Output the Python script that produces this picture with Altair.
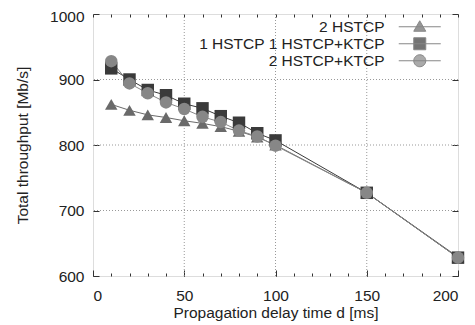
import altair as alt
import pandas as pd

delays = [10, 20, 30, 40, 50, 60, 70, 80, 90, 100, 150, 200]
hstcp2 = [862, 853, 846, 842, 837, 833, 828, 821, 812, 800, 727, 629]
mixed = [917, 900, 884, 876, 863, 856, 844, 834, 818, 807, 727, 628]
ktcp2 = [928, 894, 879, 865, 855, 843, 835, 822, 813, 799, 727, 628]

series_names = ["2 HSTCP", "1 HSTCP 1 HSTCP+KTCP", "2 HSTCP+KTCP"]
series_colors = ["#6a6a6a", "#3a3a3a", "#878787"]
series_shapes = ["triangle-up", "square", "circle"]
legend_paths = [
    "M-3.5,0H3.5M0,-1L1,0.75H-1Z",
    "M-3.5,0H3.5M-1,-1H1V1H-1Z",
    "M-3.5,0H3.5M1,0A1,1,0,1,1,-1,0A1,1,0,1,1,1,0Z",
]

x_major = [0, 50, 100, 150, 200]
x_minor = list(range(0, 201, 10))
y_major = [600, 700, 800, 900, 1000]
grid_x = [50, 100, 150]
grid_y = [700, 800, 900]

rows = []
for name, vals in zip(series_names, [hstcp2, mixed, ktcp2]):
    for d, v in zip(delays, vals):
        rows.append({"series": name, "delay": d, "thr": v})
df = pd.DataFrame(rows)

FONT = "Liberation Sans"
FS = 15.5

xscale = alt.Scale(domain=[0, 200], nice=False, zero=False)
yscale = alt.Scale(domain=[600, 1000], nice=False, zero=False)

common_axis = dict(domain=False, labelFont=FONT, labelFontSize=FS, labelColor="#222",
                   titleFont=FONT, titleFontSize=FS, titleColor="#222", titleFontWeight="normal",
                   tickColor="#333", tickWidth=1, grid=False, format="d")

# grid x + bottom major axis
gx = alt.Chart(pd.DataFrame({"v": grid_x})).mark_rule(
    color="#999", strokeDash=[1, 2], strokeWidth=1
).encode(
    x=alt.X("v:Q", scale=xscale, title="Propagation delay time d [ms]",
            axis=alt.Axis(orient="bottom", values=x_major, tickSize=6, offset=-6,
                          labelPadding=12, titlePadding=2, **common_axis))
)

# grid y + left major axis
gy = alt.Chart(pd.DataFrame({"v": grid_y})).mark_rule(
    color="#999", strokeDash=[1, 2], strokeWidth=1
).encode(
    y=alt.Y("v:Q", scale=yscale, title="Total throughput [Mb/s]",
            axis=alt.Axis(orient="left", values=y_major, tickSize=6, offset=-6,
                          labelPadding=9, titlePadding=19,
                          labelOffset={"condition": {"test": "datum.value == 1000", "value": 2}, "value": 0},
                          **common_axis))
)

lines = alt.Chart(df).mark_line(strokeWidth=1).encode(
    x=alt.X("delay:Q", scale=xscale,
            axis=alt.Axis(orient="bottom", values=x_minor, tickSize=3, offset=-3,
                          labels=False, title=None, domain=False, grid=False, tickColor="#333")),
    y=alt.Y("thr:Q", scale=yscale,
            axis=alt.Axis(orient="right", values=y_major, tickSize=6, offset=-6,
                          labels=False, title=None, domain=False, grid=False, tickColor="#333")),
    color=alt.Color("series:N", scale=alt.Scale(domain=series_names, range=series_colors), legend=None),
    detail="series:N",
)

points = alt.Chart(df).mark_point(filled=True, size=155, opacity=1).encode(
    x=alt.X("delay:Q", scale=xscale,
            axis=alt.Axis(orient="top", values=x_minor, tickSize=3, offset=-3,
                          labels=False, title=None, domain=False, grid=False, tickColor="#333")),
    y=alt.Y("thr:Q", scale=yscale, axis=None),
    color=alt.Color("series:N", scale=alt.Scale(domain=series_names, range=series_colors), legend=None),
    shape=alt.Shape("series:N", scale=alt.Scale(domain=series_names, range=series_shapes), legend=None),
)

leg_props = dict(title=None, orient="none", legendX=319, legendY=5,
                 labelAlign="right", labelOffset={"expr": "-43"}, symbolSize=144,
                 labelFont=FONT, labelFontSize=FS, labelColor="#222", labelLimit=400,
                 rowPadding={"expr": "-5"}, padding=0, symbolStrokeWidth=1)

legend_layer = alt.Chart(df).transform_filter("false").mark_point(
    filled=True, stroke="#555", strokeWidth=1, size=144
).encode(
    x=alt.X("delay:Q", scale=xscale, axis=None),
    y=alt.Y("thr:Q", scale=yscale, axis=None),
    color=alt.Color("series:N", scale=alt.Scale(domain=series_names, range=series_colors),
                    legend=alt.Legend(**leg_props)),
    shape=alt.Shape("series:N", scale=alt.Scale(domain=series_names, range=legend_paths),
                    legend=alt.Legend(**leg_props)),
)

data_layer = alt.layer(lines, points).resolve_axis(x="independent", y="independent")

chart = alt.layer(gx, gy, data_layer, legend_layer).resolve_axis(
    x="independent", y="independent"
).resolve_scale(color="independent", shape="independent").properties(
    width=365, height=262,
    autosize=alt.AutoSizeParams(type="none"),
    padding={"left": 85, "top": 6, "right": 9, "bottom": 50},
).configure_view(stroke="#222", strokeWidth=1.5).configure(background="white")

chart.save("out.html", embed_options={"renderer": "svg", "actions": False})
